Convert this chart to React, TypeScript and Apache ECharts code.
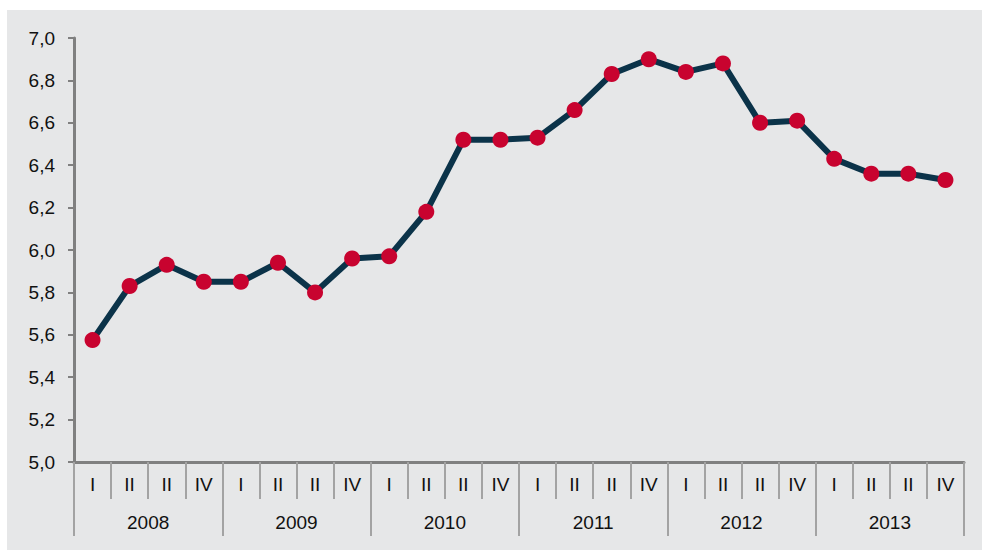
import React, { useEffect, useRef } from "react";
import * as echarts from "echarts";

const years = ["2008", "2009", "2010", "2011", "2012", "2013"];
const quarterNames = ["I", "II", "II", "IV"];
const values = [
  5.575, 5.83, 5.93, 5.85,
  5.85, 5.94, 5.80, 5.96,
  5.97, 6.18, 6.52, 6.52,
  6.53, 6.66, 6.83, 6.90,
  6.84, 6.88, 6.60, 6.61,
  6.43, 6.36, 6.36, 6.33,
];
const yMin = 5.0;
const yMax = 7.0;
const yStep = 0.2;

const quarterLabels: string[] = [];
years.forEach(() => quarterNames.forEach((q) => quarterLabels.push(q)));

export default function App() {
  const ref = useRef<HTMLDivElement>(null);
  useEffect(() => {
    if (!ref.current) return;
    const chart = echarts.init(ref.current, null, { renderer: "svg" });
    const font = "'Liberation Sans', Arial, sans-serif";
    chart.setOption({
      animation: false,
      backgroundColor: "#ffffff",
      graphic: [
        {
          type: "rect",
          left: 7,
          top: 10,
          z: -100,
          shape: { width: 975, height: 540 },
          style: { fill: "#e6e7e8" },
          silent: true,
        },
      ],
      grid: { left: 74, right: 18, top: 38, bottom: 88, containLabel: false },
      xAxis: [
        {
          type: "category",
          data: quarterLabels,
          position: "bottom",
          boundaryGap: true,
          axisLine: { show: true, lineStyle: { color: "#808080", width: 3 } },
          axisTick: {
            show: true,
            interval: 0,
            length: 37,
            lineStyle: { color: "#a3a3a3", width: 2 },
          },
          axisLabel: {
            interval: 0,
            margin: 13,
            color: "#111111",
            fontSize: 19,
            fontFamily: font,
          },
          splitLine: { show: false },
        },
        {
          type: "category",
          data: years,
          position: "bottom",
          offset: 0,
          boundaryGap: true,
          axisLine: { show: false },
          axisTick: {
            show: true,
            interval: 0,
            length: 74,
            lineStyle: { color: "#a3a3a3", width: 2 },
          },
          axisLabel: {
            interval: 0,
            margin: 51,
            color: "#111111",
            fontSize: 19,
            fontFamily: font,
          },
          splitLine: { show: false },
        },
      ],
      yAxis: {
        type: "value",
        min: yMin,
        max: yMax,
        interval: yStep,
        axisLine: { show: true, lineStyle: { color: "#808080", width: 3 } },
        axisTick: { show: true, length: 6, lineStyle: { color: "#808080", width: 2 } },
        axisLabel: {
          margin: 19,
          color: "#111111",
          fontSize: 19,
          fontFamily: font,
          formatter: (v: number) => v.toFixed(1).replace(".", ","),
        },
        splitLine: { show: false },
      },
      series: [
        {
          type: "line",
          xAxisIndex: 0,
          data: values,
          symbol: "circle",
          symbolSize: 16,
          lineStyle: { color: "#0b3349", width: 6 },
          itemStyle: { color: "#c8032f", borderWidth: 0 },
          z: 5,
        },
      ],
    });
    return () => chart.dispose();
  }, []);
  return (
    <div
      ref={ref}
      style={{ position: "fixed", left: 0, top: 0, width: 982, height: 550 }}
    />
  );
}
